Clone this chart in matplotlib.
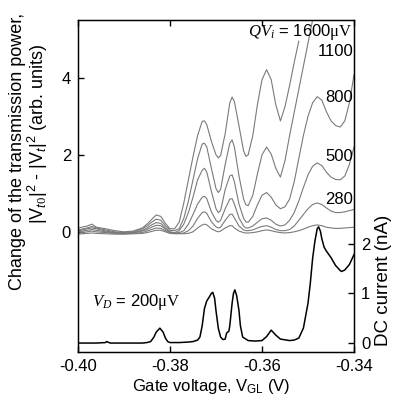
import numpy as np
import matplotlib
matplotlib.use('Agg')
import matplotlib.pyplot as plt

# ---------------- data ----------------
gate_v = [-0.400, -0.398, -0.397, -0.396, -0.394, -0.392, -0.390, -0.388, -0.386, -0.385,
          -0.384, -0.383, -0.382, -0.381, -0.380, -0.379, -0.378, -0.377, -0.376, -0.375,
          -0.374, -0.373, -0.3725, -0.372, -0.371, -0.370, -0.3695, -0.369, -0.368, -0.367,
          -0.3665, -0.366, -0.365, -0.364, -0.3635, -0.363, -0.362, -0.361, -0.360, -0.359,
          -0.358, -0.357, -0.356, -0.355, -0.354, -0.353, -0.352, -0.351, -0.350, -0.349,
          -0.348, -0.347, -0.346, -0.345, -0.344, -0.343, -0.342, -0.341, -0.340]

nan = float('nan')
trans_1600 = [0.10, 0.15, 0.20, 0.12, 0.08, 0.03, 0.0, 0.02, 0.10, 0.20, 0.32, 0.44, 0.40, 0.22, 0.08, 0.08, 0.25,
              0.75, 1.35, 1.95, 2.5, 2.87, 2.88, 2.78, 2.35, 2.0, 1.92, 1.98, 2.55, 3.35, 3.5, 3.38, 2.75, 2.1,
              1.96, 2.0, 2.5, 3.3, 3.95, 4.21, 3.95, 3.3, 2.88, 3.25, 3.8, 4.4, 4.95] + [nan] * 12
trans_1100 = [0.05, 0.10, 0.14, 0.10, 0.05, 0.0, -0.02, 0.0, 0.08, 0.15, 0.25, 0.33, 0.30, 0.16, 0.04, 0.03, 0.08,
              0.35, 0.8, 1.35, 1.9, 2.28, 2.30, 2.2, 1.65, 1.12, 1.02, 1.1, 1.75, 2.3, 2.39, 2.2, 1.45, 0.85,
              0.7, 0.68, 0.95, 1.5, 2.0, 2.2, 2.02, 1.65, 1.42, 1.85, 2.5, 3.1, 3.7, 4.3, 4.9, 5.5, 6.1] + [nan] * 8
trans_800 = [0.02, 0.08, 0.10, 0.08, 0.02, -0.02, -0.03, -0.02, 0.04, 0.10, 0.18, 0.24, 0.22, 0.10, 0.0, -0.02, 0.03,
             0.2, 0.5, 0.9, 1.35, 1.6, 1.65, 1.55, 1.05, 0.6, 0.5, 0.55, 1.1, 1.45, 1.48, 1.3, 0.72, 0.35, 0.26,
             0.25, 0.4, 0.7, 0.95, 1.02, 0.9, 0.7, 0.6, 0.65, 0.85, 1.3, 1.9, 2.5, 3.0, 3.35, 3.51, 3.42, 3.12,
             2.88, 2.76, 2.72, 2.88, 3.35, 4.08]
trans_500 = [0.0, 0.04, 0.06, 0.04, 0.0, -0.03, -0.04, -0.03, 0.02, 0.06, 0.12, 0.17, 0.16, 0.07, -0.01, -0.03, -0.02,
             0.03, 0.2, 0.45, 0.72, 0.9, 0.92, 0.86, 0.52, 0.3, 0.25, 0.3, 0.6, 0.85, 0.86, 0.72, 0.36, 0.15, 0.1,
             0.1, 0.15, 0.25, 0.34, 0.36, 0.3, 0.2, 0.15, 0.18, 0.3, 0.5, 0.8, 1.15, 1.48, 1.7, 1.79, 1.72, 1.55,
             1.42, 1.36, 1.35, 1.45, 1.75, 2.2]
trans_280 = [-0.03, 0.0, 0.02, 0.0, -0.02, -0.04, -0.05, -0.04, -0.02, 0.02, 0.06, 0.10, 0.09, 0.03, -0.03, -0.04, -0.04,
             -0.03, 0.03, 0.15, 0.35, 0.5, 0.52, 0.48, 0.26, 0.13, 0.1, 0.12, 0.3, 0.45, 0.46, 0.36, 0.15, 0.05,
             0.03, 0.03, 0.05, 0.1, 0.14, 0.16, 0.12, 0.06, 0.03, 0.03, 0.06, 0.15, 0.3, 0.45, 0.6, 0.71, 0.75,
             0.71, 0.62, 0.54, 0.5, 0.5, 0.52, 0.55, 0.58]
trans_low = [-0.06, -0.04, -0.03, -0.04, -0.05, -0.06, -0.06, -0.05, -0.04, -0.02, 0.01, 0.04, 0.04, 0.0, -0.04, -0.05, -0.05,
             -0.05, -0.04, 0.0, 0.1, 0.18, 0.2, 0.18, 0.08, 0.02, 0.0, 0.02, 0.1, 0.16, 0.16, 0.1, 0.02, -0.02,
             -0.03, -0.03, -0.02, 0.0, 0.03, 0.05, 0.03, 0.0, -0.02, -0.03, -0.02, 0.0, 0.03, 0.07, 0.12, 0.16,
             0.18, 0.16, 0.12, 0.1, 0.09, 0.09, 0.1, 0.11, 0.12]
trans_curves = [trans_1600, trans_1100, trans_800, trans_500, trans_280, trans_low]
curve_labels = ['1100', '800', '500', '280']
label_y = [4.68, 3.5, 1.95, 0.83]

dc_gate_v = [-0.400, -0.396, -0.394, -0.3938, -0.3935, -0.393, -0.390, -0.386, -0.385, -0.3842,
             -0.3835, -0.383, -0.3822, -0.3815, -0.381, -0.3805, -0.380, -0.378, -0.376, -0.375,
             -0.374, -0.3735, -0.373, -0.3725, -0.372, -0.3715, -0.371, -0.3707, -0.3703, -0.370,
             -0.3695, -0.369, -0.3685, -0.368, -0.3677, -0.3672, -0.367, -0.3665, -0.3662, -0.3659,
             -0.3655, -0.365, -0.3647, -0.3642, -0.363, -0.3615, -0.360, -0.359, -0.358, -0.357,
             -0.356, -0.354, -0.353, -0.352, -0.3515, -0.351, -0.3505, -0.350, -0.3495, -0.349,
             -0.3485, -0.348, -0.3477, -0.3473, -0.347, -0.3465, -0.346, -0.345, -0.344, -0.343,
             -0.3427, -0.342, -0.341, -0.3405, -0.340]
dc_current = [0.0, 0.0, 0.01, 0.03, 0.02, 0.0, 0.0, 0.0, 0.01, 0.03,
              0.12, 0.22, 0.30, 0.22, 0.10, 0.03, 0.01, 0.01, 0.02, 0.03,
              0.06, 0.12, 0.35, 0.70, 0.85, 0.92, 1.0, 1.02, 0.9, 0.65,
              0.3, 0.12, 0.07, 0.08, 0.2, 0.24, 0.35, 0.8, 1.0, 1.07,
              0.95, 0.65, 0.35, 0.12, 0.05, 0.04, 0.05, 0.13, 0.26, 0.16,
              0.08, 0.05, 0.06, 0.1, 0.2, 0.3, 0.55, 0.8, 1.2, 1.7,
              2.05, 2.3, 2.34, 2.25, 2.1, 1.93, 1.85, 1.72, 1.56, 1.46,
              1.44, 1.47, 1.58, 1.68, 1.78]

x_ticks = [-0.40, -0.38, -0.36, -0.34]
x_ticklabels = ['-0.40', '-0.38', '-0.36', '-0.34']
left_ticks = [0, 2, 4]
right_ticks = [0, 1, 2]

# ---------------- style ----------------
plt.rcParams['font.family'] = ['Liberation Sans', 'DejaVu Sans']
plt.rcParams['mathtext.fontset'] = 'custom'
plt.rcParams['mathtext.rm'] = 'Liberation Serif'
plt.rcParams['mathtext.it'] = 'Liberation Sans:italic'
plt.rcParams['mathtext.cal'] = 'Liberation Serif:italic'
plt.rcParams['mathtext.sf'] = 'Liberation Sans'
plt.rcParams['axes.unicode_minus'] = False

fs = 12
fig = plt.figure(figsize=(3.94, 3.99), dpi=100)
ax = fig.add_axes([78 / 394, 47 / 399, 276 / 394, 332 / 399])

for yv in trans_curves:
    ax.plot(gate_v, yv, color='#7a7a7a', lw=0.8)

ax.set_xlim(-0.40, -0.34)
ax.set_ylim(-3.12, 5.5)
ax.set_xticks(x_ticks)
ax.set_xticklabels(x_ticklabels)
ax.set_yticks(left_ticks)
ax.tick_params(direction='in', length=4, width=1, labelsize=fs, top=True, right=False, pad=5)
for s in ax.spines.values():
    s.set_linewidth(1.0)

ax.text(-0.3402, 5.18, r'$\mathcal{QV}_{\mathcal{i}}$ = 1600$\mathrm{\mu V}$', ha='right', va='center', fontsize=fs)
for lab, ly in zip(curve_labels, label_y):
    ax.text(-0.3402, ly, lab, ha='right', va='center', fontsize=fs)
ax.text(-0.3970, -1.82, r'$\mathcal{V}_{\mathcal{D}}$ = 200$\mathrm{\mu V}$', ha='left', va='center', fontsize=fs)

ax2 = ax.twinx()
ax2.plot(dc_gate_v, dc_current, color='black', lw=1.1)
ax2.set_ylim(-0.18, 6.5)
ax2.set_yticks(right_ticks)
ax2.tick_params(direction='in', length=4, width=1, labelsize=fs, pad=5)

fig.text(18 / 394, 1 - 151 / 399, 'Change of the transmission power,', rotation=90,
         ha='center', va='center', fontsize=13)
fig.text(38 / 394, 1 - 134 / 399,
         r'|V$_{t0}$|$^{\mathsf{2}}$ - |V$_{t}$|$^{\mathsf{2}}$ (arb. units)', rotation=90,
         ha='center', va='center', fontsize=13)
fig.text(211 / 394, 1 - 387 / 399, r'Gate voltage, V$_{\mathsf{GL}}$ (V)', ha='center', va='center', fontsize=fs)
fig.text(384 / 394, 1 - 280 / 399, 'DC current (nA)', rotation=90, ha='center', va='center', fontsize=13.5)

fig.savefig('out.png', dpi=100)
